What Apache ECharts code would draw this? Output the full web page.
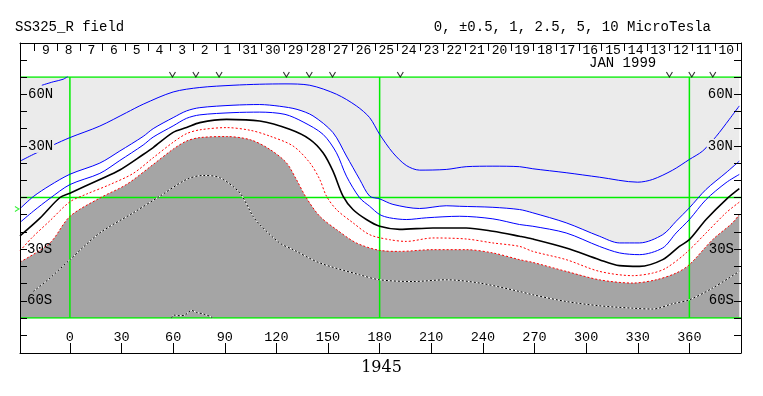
<!DOCTYPE html>
<html>
<head>
<meta charset="utf-8">
<title>SS325_R field</title>
<script src="https://cdn.jsdelivr.net/npm/echarts@6/dist/echarts.min.js"></script>
<style>
  html, body { margin: 0; padding: 0; background: #fff; }
  #chart { width: 763px; height: 396px; }
</style>
</head>
<body>
<div id="chart"></div>
<script>
// contour lines as [carrington longitude, latitude]
var blueTop = [[-16.3, 65.2], [-9.7, 67.2], [-3.9, 68.7], [-1, 70.5]];
var blueOuter = [[-29, 21.1], [-21.3, 25], [-9.7, 30.5], [0, 34.8], [17.4, 41.5], [32.9, 49.3], [42.6, 54.2], [60, 61.3], [75.5, 63.9], [94.8, 65.2], [110.3, 65.8], [125, 66], [139.4, 65.2], [154.9, 60], [166.5, 53.2], [174.2, 46.4], [180, 36.7], [187.7, 26], [195.5, 18.6], [203.2, 15.9], [218.7, 16.3], [230.3, 17.9], [245.8, 18.2], [261.3, 17.9], [269, 16.7], [288.4, 14.4], [307.7, 11.8], [330, 8.9], [338.7, 10.5], [350.3, 15.9], [360, 22.1], [367.7, 27], [375.5, 35.4], [383.2, 45.4], [389, 53.2]];
var blueMid = [[-29, -6.5], [-21.3, 0.5], [-11.6, 7], [0, 13.5], [17.4, 20], [29, 27], [42.6, 35.5], [48.4, 40], [60, 46.4], [67.8, 50.3], [75.5, 52.2], [94.8, 53.6], [110.3, 54], [121.9, 53], [132, 51.2], [141.3, 47.4], [152.9, 37.7], [160.7, 24.1], [168.4, 10.5], [174.2, 0.8], [180, -0.8], [187.7, -4], [203.2, -6.4], [218.7, -4.8], [226.5, -5.1], [245.8, -5.7], [261.3, -7], [269, -8.9], [288.4, -14.7], [307.7, -22.5], [319.4, -26.4], [331, -26.4], [344.5, -21.6], [352.3, -13.8], [360, -6], [369.7, 4.7], [381.3, 14.4], [389, 21.1]];
var blueInner = [[-29, -14.5], [-21.3, -8], [-11.6, -0.5], [0, 7.5], [17.4, 14], [29, 21.5], [42.6, 30.5], [48.4, 35.1], [60, 41.6], [67.8, 46], [75.5, 48], [94.8, 49.3], [110.3, 49.6], [125, 48.3], [135.5, 43.9], [147.1, 36.7], [154.9, 26], [160.7, 12.4], [168.4, -0.2], [174.2, -5.1], [180, -9.9], [185.8, -11.8], [195.5, -12.8], [207.1, -11.8], [226.5, -10.9], [245.8, -12.4], [261.3, -15.7], [269, -16.7], [288.4, -20.6], [307.7, -28.4], [319.4, -32.2], [331, -33.2], [344.5, -29.3], [352.3, -20.6], [360, -12.8], [369.7, -1.2], [381.3, 8.6], [389, 13.4]];
var neutralLine = [[-29, -22.3], [-17.4, -12], [-5.8, 0], [0, 2.5], [17.4, 10.5], [29, 16], [42.6, 25], [48.4, 29], [60, 37.8], [67.8, 40.6], [75.5, 43.5], [91, 45.4], [110.3, 44.4], [127.7, 39.6], [139.4, 33.8], [147.1, 26], [152.9, 15.3], [158.7, 0.8], [164.5, -7], [172.3, -12.8], [180, -16.7], [191.6, -18.5], [211, -17.7], [230.3, -17.7], [245.8, -19.6], [261.3, -22.5], [269, -24.1], [288.4, -29.3], [307.7, -36.1], [319.4, -39.6], [331, -40], [344.5, -36.1], [354.2, -28.4], [360, -24.5], [369.7, -12.8], [381.3, -1.2], [389, 5.1]];
var redInner = [[-29, -31], [-22.2, -23.5], [-11.6, -13.5], [0, -2.5], [9.7, 2], [23.2, 7.5], [36.8, 14], [48.4, 23.1], [60, 32.1], [67.8, 37.1], [75.5, 39.3], [91, 40.6], [105, 39], [116.1, 35.7], [129.7, 29.9], [139.4, 20.2], [145.2, 10.5], [149.1, 0.8], [154.9, -7], [164.5, -14.7], [174.2, -21.6], [185.8, -24.5], [195.5, -25.5], [211, -23.5], [230.3, -24.1], [245.8, -26.4], [261.3, -28.4], [269, -31.3], [288.4, -36.1], [307.7, -42.9], [327.1, -45.4], [338.7, -43.9], [346.5, -41], [358.1, -32.2], [369.7, -20.6], [381.3, -8.9], [389, -2.7]];
var redOuter = [[-29, -37.5], [-11.6, -26.4], [0, -11], [17.4, -0.3], [32.9, 7.6], [48.4, 19.2], [60, 28.1], [67.8, 32.8], [75.5, 34.8], [91, 35.4], [105, 33.5], [116.1, 28], [125.8, 20.2], [131.6, 10.5], [137.4, -0.2], [145.2, -10.9], [154.9, -18.6], [166.5, -26.4], [180, -30.7], [191.6, -31.3], [211, -30.3], [230.3, -30.3], [245.8, -32.2], [261.3, -36.1], [269, -37.7], [288.4, -42.9], [307.7, -47.8], [327.1, -49.7], [340.7, -47.8], [352.3, -43.9], [360, -39], [373.5, -24.5], [385.1, -14.7], [389, -9.9]];
var negDeep = [[-21.3, -54.6], [-11.6, -46.8], [0, -36.1], [17.4, -20.6], [36.8, -8.9], [52.3, 0.8], [67.8, 10.5], [77.4, 12.8], [87.1, 11.5], [98.7, 2.7], [106.4, -10.9], [110.3, -15.7], [121.9, -26.4], [129.7, -30.3], [145.2, -38], [168.4, -44.9], [180, -47.8], [199.3, -48.8], [218.7, -47.8], [238.1, -49.7], [261.3, -54.6], [269, -56.5], [288.4, -60.4], [307.7, -62.9], [327.1, -64.3], [338.7, -64.8], [350.3, -61.7], [360, -59.4], [373.5, -52.6], [389, -42.9]];
var negBump = [[59, -70.1], [60.3, -68.3], [63.9, -68.7], [66.8, -68.3], [70.7, -65.6], [73.6, -66.8], [77.4, -67.6], [82.3, -69.5], [83.2, -70.5]];

// axes
var lonTicks = [0, 30, 60, 90, 120, 150, 180, 210, 240, 270, 300, 330, 360];
var latLabels = [-60, -30, 30, 60];
var gridLons = [0, 180, 360];
var gridLats = [-70, 0, 70];
var dayLabels = ['9', '8', '7', '6', '5', '4', '3', '2', '1', '31', '30', '29', '28', '27', '26', '25', '24', '23', '22', '21', '20', '19', '18', '17', '16', '15', '14', '13', '12', '11', '10'];
var firstDayLon = -13.9;
var dayStep = 13.18;
var obsMarks = [59.6, 73.2, 86.7, 125.8, 139.1, 152.6, 192.0, 348.4, 361.4, 373.6];
var earthLat = -6.7;

var MONO = '"Liberation Mono", "DejaVu Sans Mono", monospace';
var GREEN = '#00ee00';
var LON_MIN = -29, LON_MAX = 390;

var dayCenters = dayLabels.map(function (d, i) { return firstDayLon + i * dayStep; });
var dayEdges = [];
for (var i = 0; i <= dayLabels.length; i++) dayEdges.push(firstDayLon - dayStep / 2 + i * dayStep);

function contour(data, color, width, type, z) {
  return {
    type: 'line', xAxisIndex: 1, yAxisIndex: 2, data: data, symbol: 'none',
    smooth: 0.3, silent: true, z: z || 4,
    lineStyle: { color: color, width: width, type: type }
  };
}
function fill(data, color, origin) {
  return {
    type: 'line', xAxisIndex: 1, yAxisIndex: 2, data: data, symbol: 'none',
    smooth: 0.3, silent: true, z: 1,
    lineStyle: { width: 0, opacity: 0 },
    areaStyle: { color: color, opacity: 1, origin: origin }
  };
}
function refLine(data) {
  return {
    type: 'line', xAxisIndex: 1, yAxisIndex: 2, data: data, symbol: 'none',
    silent: true, z: 2, lineStyle: { color: GREEN, width: 1.5 }
  };
}
function frameY(grid, pos) {
  return {
    gridIndex: grid, type: 'value', position: pos, min: 0, max: 2, interval: 1, z: 5,
    axisLine: { show: true, onZero: false, lineStyle: { color: '#000' } },
    axisTick: { show: true, inside: true, length: 7, lineStyle: { color: '#000' } },
    axisLabel: { show: false }, splitLine: { show: false }
  };
}
function latAxis(pos) {
  return {
    gridIndex: 1, type: 'value', position: pos, min: -70, max: 70, interval: 10, z: 5,
    axisLine: { show: true, onZero: false, lineStyle: { color: '#000' } },
    axisTick: { show: true, inside: true, length: 7, lineStyle: { color: '#000' } },
    axisLabel: {
      show: true, inside: true, margin: 7, customValues: latLabels,
      fontFamily: MONO, fontSize: 14, color: '#000',
      // northern labels sit on the light grey area and cut the contours
      formatter: function (v) { return v > 0 ? '{n|' + v + 'N}' : '{s|' + (-v) + 'S}'; },
      rich: {
        n: { fontFamily: MONO, fontSize: 14, color: '#000', backgroundColor: '#ebebeb', padding: [0, 1] },
        s: { fontFamily: MONO, fontSize: 14, color: '#000' }
      }
    },
    splitLine: { show: false }
  };
}
var titleFont = { fontFamily: MONO, fontSize: 14, fontWeight: 'normal', color: '#000' };

var chart = echarts.init(document.getElementById('chart'));
chart.setOption({
  animation: false,
  backgroundColor: '#fff',
  title: [
    { text: 'SS325_R field', left: 15, top: 20, padding: 0, textStyle: titleFont },
    { text: '0, \u00b10.5, 1, 2.5, 5, 10 MicroTesla', right: 52, top: 20, padding: 0, textStyle: titleFont },
    { text: 'JAN 1999', left: 589, top: 56, padding: 0, textStyle: titleFont },
    { text: '1945', left: 'center', top: 360, padding: 0,
      textStyle: { fontFamily: '"DejaVu Serif", serif', fontSize: 16, fontWeight: 'normal', color: '#000' } }
  ],
  grid: [
    { left: 20, right: 22, top: 43, height: 34, outerBoundsMode: 'none' },
    { left: 20, right: 22, top: 77, height: 241, outerBoundsMode: 'none' },
    { left: 20, right: 22, top: 318, height: 35, outerBoundsMode: 'none' }
  ],
  xAxis: [
    {
      gridIndex: 0, type: 'value', position: 'top', min: LON_MIN, max: LON_MAX, z: 5,
      axisLine: { show: true, onZero: false, lineStyle: { color: '#000' } },
      axisTick: { show: true, inside: true, length: 8, customValues: dayEdges, lineStyle: { color: '#000' } },
      axisLabel: {
        show: true, inside: true, margin: 1, customValues: dayCenters,
        fontFamily: MONO, fontSize: 13, color: '#000',
        formatter: function (v) { return dayLabels[Math.round((v - firstDayLon) / dayStep)]; }
      },
      splitLine: { show: false }
    },
    {
      gridIndex: 1, type: 'value', min: LON_MIN, max: LON_MAX, show: false,
      axisLine: { onZero: false }
    },
    {
      gridIndex: 2, type: 'value', position: 'bottom', min: LON_MIN, max: LON_MAX, z: 5,
      axisLine: { show: true, onZero: false, lineStyle: { color: '#000' } },
      axisTick: { show: true, inside: true, length: 10, customValues: lonTicks, lineStyle: { color: '#000' } },
      axisLabel: {
        show: true, inside: true, margin: 9, customValues: lonTicks,
        fontFamily: MONO, fontSize: 13.5, color: '#000'
      },
      splitLine: { show: false }
    }
  ],
  yAxis: [
    frameY(0, 'left'), frameY(0, 'right'),
    latAxis('left'), latAxis('right'),
    frameY(2, 'left'), frameY(2, 'right')
  ],
  series: [
    fill(blueMid, '#ebebeb', 'end'),
    fill(redOuter, '#a5a5a5', 'start')
  ].concat(
    gridLons.map(function (v) { return refLine([[v, -70], [v, 70]]); }),
    gridLats.map(function (v) { return refLine([[LON_MIN, v], [LON_MAX, v]]); }),
    [
      contour(blueTop, '#0000ff', 1, 'solid'),
      contour(blueOuter, '#0000ff', 1, 'solid'),
      contour(blueMid, '#0000ff', 1, 'solid'),
      contour(blueInner, '#0000ff', 1, 'solid'),
      contour(neutralLine, '#000000', 1.6, 'solid'),
      contour(redInner, '#ff0000', 1, [2, 2]),
      contour(redOuter, '#ff0000', 1, [2, 2]),
      contour(negDeep, '#ffffff', 1, 'solid', 3),
      contour(negDeep, '#000000', 1, [2, 2]),
      contour(negBump, '#ffffff', 1, 'solid', 3),
      contour(negBump, '#000000', 1, [2, 2]),
      {
        type: 'scatter', xAxisIndex: 0, yAxisIndex: 0, silent: true, z: 6,
        data: obsMarks.map(function (l) { return [l, 0.15]; }),
        symbol: 'path://M0,0L5,9L10,0', symbolSize: [6, 5],
        itemStyle: { color: 'none', borderColor: '#000', borderWidth: 1 }
      },
      {
        type: 'scatter', xAxisIndex: 1, yAxisIndex: 2, silent: true, clip: false, z: 6,
        data: [[-30.8, earthLat]],
        symbol: 'path://M0,0L8,5L0,10', symbolSize: [4, 5],
        itemStyle: { color: 'none', borderColor: GREEN, borderWidth: 1 }
      }
    ]
  )
});
</script>
</body>
</html>
